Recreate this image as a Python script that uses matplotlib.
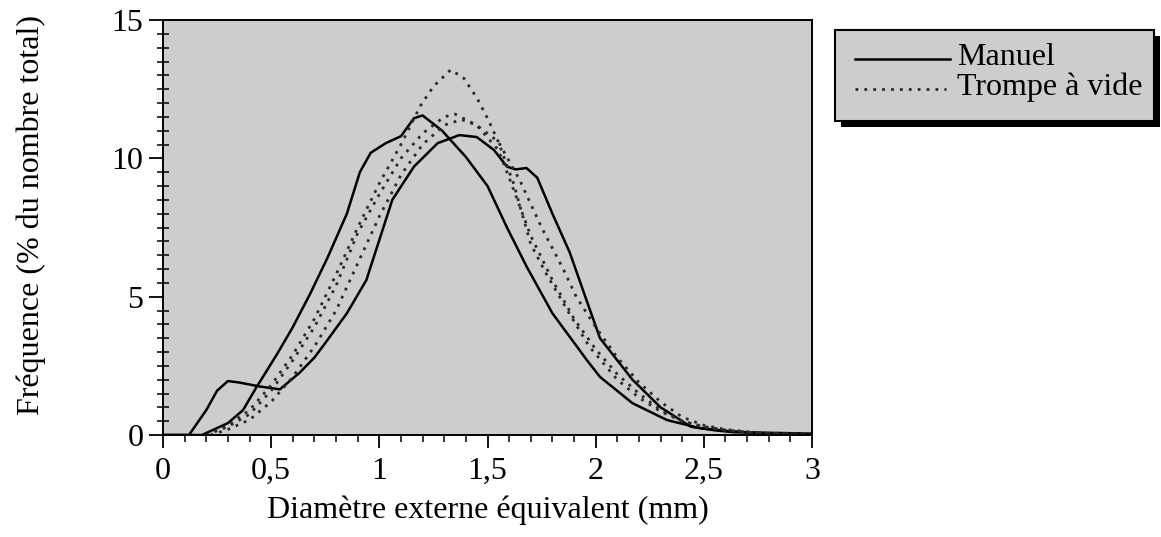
import numpy as np
import matplotlib
matplotlib.use("Agg")
import matplotlib.pyplot as plt
from matplotlib.lines import Line2D
from matplotlib.patches import Rectangle
from matplotlib.ticker import MultipleLocator, FuncFormatter

# --- data (diameter in mm, frequency in %) ---
manuel1_x = [0.0, 0.12, 0.2, 0.25, 0.3, 0.35, 0.45, 0.54, 0.63, 0.7, 0.76, 0.85, 0.94, 1.0,
             1.06, 1.16, 1.27, 1.37, 1.45, 1.53, 1.59, 1.63, 1.68, 1.73, 1.8, 1.88, 1.97,
             2.02, 2.1, 2.17, 2.3, 2.44, 2.55, 2.64, 2.8, 3.0]
manuel1_y = [0.0, 0.0, 0.9, 1.6, 1.95, 1.9, 1.75, 1.65, 2.24, 2.8, 3.43, 4.4, 5.6, 7.05,
             8.5, 9.7, 10.55, 10.84, 10.77, 10.3, 9.7, 9.6, 9.65, 9.3, 8.0, 6.6, 4.6,
             3.5, 2.7, 2.0, 1.0, 0.3, 0.17, 0.1, 0.08, 0.05]

manuel2_x = [0.0, 0.18, 0.3, 0.37, 0.43, 0.53, 0.6, 0.68, 0.76, 0.85, 0.91, 0.96, 1.03,
             1.1, 1.16, 1.2, 1.29, 1.4, 1.5, 1.59, 1.68, 1.8, 1.96, 2.02, 2.17, 2.33,
             2.48, 2.6, 2.8, 3.0]
manuel2_y = [0.0, 0.0, 0.43, 0.9, 1.7, 2.96, 3.9, 5.1, 6.4, 8.0, 9.5, 10.2, 10.55,
             10.8, 11.45, 11.55, 11.0, 10.05, 9.0, 7.5, 6.1, 4.4, 2.7, 2.1, 1.15, 0.54,
             0.25, 0.15, 0.05, 0.02]

trompe1_x = [0.2, 0.3, 0.4, 0.5, 0.6, 0.7, 0.8, 0.9, 1.0, 1.1, 1.19, 1.25, 1.33, 1.39,
             1.45, 1.5, 1.55, 1.62, 1.7, 1.77, 1.87, 1.97, 2.1, 2.2, 2.3, 2.4, 2.5, 2.6,
             2.7, 2.8, 3.0]
trompe1_y = [0.0, 0.35, 0.9, 1.8, 2.9, 4.2, 5.8, 7.5, 9.1, 10.5, 11.9, 12.6, 13.2, 12.9,
             12.2, 11.45, 10.6, 9.1, 6.9, 5.85, 4.5, 3.2, 2.0, 1.35, 0.85, 0.5, 0.3, 0.17,
             0.1, 0.05, 0.02]

trompe2_x = [0.2, 0.3, 0.4, 0.5, 0.6, 0.7, 0.8, 0.9, 1.0, 1.1, 1.2, 1.3, 1.35, 1.45,
             1.55, 1.6, 1.7, 1.8, 1.9, 2.0, 2.1, 2.2, 2.3, 2.4, 2.5, 2.6, 2.7, 2.8, 3.0]
trompe2_y = [0.0, 0.3, 0.75, 1.6, 2.7, 3.9, 5.4, 7.3, 8.7, 10.0, 10.9, 11.5, 11.6, 11.2,
             10.3, 9.3, 7.2, 5.6, 4.2, 3.1, 2.2, 1.5, 0.9, 0.5, 0.3, 0.18, 0.1, 0.06, 0.03]

trompe3_x = [0.22, 0.3, 0.4, 0.5, 0.6, 0.7, 0.8, 0.9, 1.0, 1.1, 1.2, 1.3, 1.38, 1.45,
             1.55, 1.65, 1.75, 1.85, 1.91, 2.0, 2.1, 2.2, 2.3, 2.4, 2.5, 2.6, 2.7, 2.8, 3.0]
trompe3_y = [0.0, 0.2, 0.55, 1.2, 2.1, 3.2, 4.5, 6.2, 7.9, 9.4, 10.5, 11.2, 11.4, 11.2,
             10.6, 9.2, 7.5, 6.0, 5.0, 3.9, 2.8, 1.9, 1.2, 0.65, 0.35, 0.2, 0.12, 0.06, 0.03]

legend_labels = ["Manuel", "Trompe à vide"]
xlabel = "Diamètre externe équivalent (mm)"
ylabel = "Fréquence (% du nombre total)"

plt.rcParams["font.family"] = ["Liberation Serif", "DejaVu Serif"]
BG = "#cdcdcd"
FS = 23

fig = plt.figure(figsize=(11.61, 5.37), dpi=100)
ax = fig.add_axes([163 / 1161, 1 - 435 / 537, (812 - 163) / 1161, (435 - 20) / 537])
ax.set_facecolor(BG)

solid = dict(color="black", lw=1.8, solid_joinstyle="round")
dotted = dict(color="#2a2a2a", lw=2.0, linestyle=(0, (1, 2.2)))
ax.plot(manuel1_x, manuel1_y, **solid)
ax.plot(manuel2_x, manuel2_y, **solid)
ax.plot(trompe1_x, trompe1_y, **dotted)
ax.plot(trompe2_x, trompe2_y, **dotted)
ax.plot(trompe3_x, trompe3_y, **dotted)

ax.set_xlim(0, 3)
ax.set_ylim(0, 15)
ax.xaxis.set_major_locator(MultipleLocator(0.5))
ax.xaxis.set_minor_locator(MultipleLocator(0.1))
ax.yaxis.set_major_locator(MultipleLocator(5))
ax.yaxis.set_minor_locator(MultipleLocator(0.5))
ax.xaxis.set_major_formatter(FuncFormatter(lambda v, p: f"{v:g}".replace(".", ",")))
ax.tick_params(axis="x", which="major", direction="out", length=9, width=1.3,
               labelsize=FS, pad=7)
ax.tick_params(axis="x", which="minor", direction="out", length=5, width=1.1)
ax.tick_params(axis="y", which="major", direction="out", length=10, width=1.3,
               labelsize=FS, pad=4)
ax.tick_params(axis="y", which="minor", direction="inout", length=8, width=1.1)
for s in ax.spines.values():
    s.set_linewidth(1.4)

ax.set_xlabel(xlabel, fontsize=FS, labelpad=7)
ax.set_ylabel(ylabel, fontsize=FS)
ax.yaxis.set_label_coords(-0.18, 0.53)

# legend box with drop shadow, drawn in figure pixels
W, H = 1161, 537
def fx(px): return px / W
def fy(py): return 1 - py / H

fig.add_artist(Rectangle((fx(841), fy(127)), fx(1160) - fx(841), fy(36) - fy(127),
                         transform=fig.transFigure, facecolor="black", edgecolor="none"))
fig.add_artist(Rectangle((fx(835), fy(121)), fx(1154) - fx(835), fy(30) - fy(121),
                         transform=fig.transFigure, facecolor=BG, edgecolor="black", lw=1.5))
fig.add_artist(Line2D([fx(855), fx(950)], [fy(59), fy(59)], transform=fig.transFigure,
                      **solid))
fig.add_artist(Line2D([fx(855), fx(946)], [fy(89), fy(89)], transform=fig.transFigure,
                      **dotted))
fig.text(fx(957), fy(65), legend_labels[0], fontsize=FS, va="baseline", ha="left")
fig.text(fx(957), fy(95), legend_labels[1], fontsize=FS, va="baseline", ha="left")

fig.savefig("out.png", dpi=100)
